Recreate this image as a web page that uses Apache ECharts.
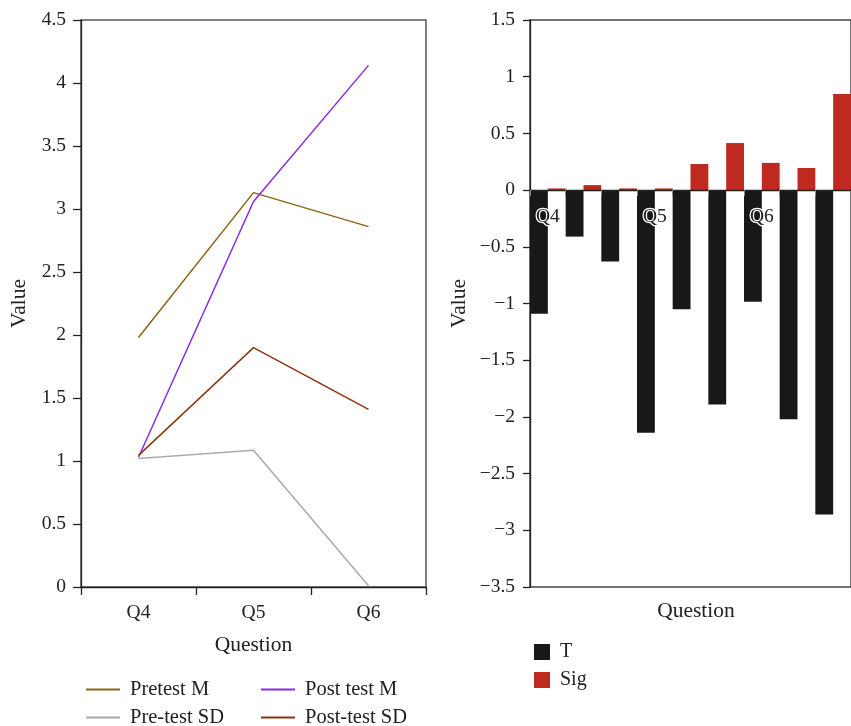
<!DOCTYPE html>
<html>
<head>
<meta charset="utf-8">
<script src="https://cdn.jsdelivr.net/npm/echarts@6/dist/echarts.min.js"></script>
<style>html,body{margin:0;padding:0;background:#fff}#c{width:851px;height:726px}</style>
</head>
<body>
<div id="c"></div>
<script>
// ---- data ----
var lineCategories = ["Q4", "Q5", "Q6"];
var pretestM   = [1.98, 3.13, 2.86];
var posttestM  = [1.03, 3.06, 4.14];
var pretestSD  = [1.02, 1.085, 0.01];
var posttestSD = [1.045, 1.90, 1.41];

var barCategories = ["Q4", "", "", "Q5", "", "", "Q6", "", ""];
var tValues   = [-1.09, -0.41, -0.63, -2.14, -1.05, -1.89, -0.985, -2.02, -2.86];
var sigValues = [0.015, 0.044, 0.015, 0.015, 0.23, 0.415, 0.24, 0.195, 0.847];

var leftTicks = { min: 0, max: 4.5, interval: 0.5 };
var rightTicks = { min: -3.5, max: 1.5, interval: 0.5 };

// ---- chart ----
var FONT = "Liberation Serif";
var TXT = "#222";
var chart = echarts.init(document.getElementById('c'), null, { renderer: 'canvas' });
function fmt(v) { return String(v).replace('-', '\u2212'); }

var GRID_TOP = 20, GRID_H = 567;
// distance of the zero line below the top of the right grid (from the axis range)
var zeroOffset = GRID_H * (rightTicks.max - 0) / (rightTicks.max - rightTicks.min);

var axisLineStyle = { color: '#222', width: 1.3 };
function lineLegend(name, left, top) {
  return { left: left, top: top, orient: 'horizontal', icon: 'rect', itemWidth: 34, itemHeight: 2,
    textStyle: { fontFamily: FONT, fontSize: 20.5, color: TXT, padding: [0, 0, 0, 5] }, data: [name] };
}
var option = {
  animation: false,
  textStyle: { fontFamily: FONT },
  grid: [
    { left: 81, top: GRID_TOP, width: 345, height: GRID_H, show: true, borderColor: '#555', borderWidth: 1.5, backgroundColor: 'transparent' },
    { left: 530, top: GRID_TOP, width: 333, height: GRID_H, show: true, borderColor: '#444', borderWidth: 1.5, backgroundColor: 'transparent' }
  ],
  xAxis: [
    {
      gridIndex: 0, type: 'category', data: lineCategories, boundaryGap: true,
      name: 'Question', nameLocation: 'middle', nameGap: 47,
      nameTextStyle: { fontFamily: FONT, fontSize: 21.5, color: TXT },
      axisLine: { lineStyle: axisLineStyle },
      axisTick: { show: true, length: 8, lineStyle: { color: '#222', width: 1.3 } },
      axisLabel: { fontFamily: FONT, fontSize: 19.5, color: TXT, margin: 16 },
      splitLine: { show: false }
    },
    {
      gridIndex: 1, type: 'category', data: barCategories, position: 'top', offset: -zeroOffset,
      axisLine: { onZero: false, lineStyle: { color: '#222', width: 1.3 } },
      axisTick: { show: true, inside: true, length: 6, lineStyle: { color: '#8a8a8a', width: 1 } },
      axisLabel: { inside: true, interval: 0, fontFamily: FONT, fontSize: 19.5, color: TXT, margin: 17,
                   textBorderColor: '#fff', textBorderWidth: 2.5 },
      splitLine: { show: false },
      z: 10
    }
  ],
  yAxis: [
    {
      gridIndex: 0, type: 'value', min: leftTicks.min, max: leftTicks.max, interval: leftTicks.interval,
      name: 'Value', nameLocation: 'middle', nameGap: 51,
      nameTextStyle: { fontFamily: FONT, fontSize: 21.5, color: TXT },
      axisLine: { show: true, lineStyle: axisLineStyle },
      axisTick: { show: true, length: 8, lineStyle: { color: '#222', width: 1.3 } },
      axisLabel: { fontFamily: FONT, fontSize: 19.5, color: TXT, margin: 15, formatter: fmt },
      splitLine: { show: false }
    },
    {
      gridIndex: 1, type: 'value', min: rightTicks.min, max: rightTicks.max, interval: rightTicks.interval,
      name: 'Value', nameLocation: 'middle', nameGap: 60,
      nameTextStyle: { fontFamily: FONT, fontSize: 21.5, color: TXT },
      axisLine: { show: true, onZero: false, lineStyle: axisLineStyle },
      axisTick: { show: true, length: 7, lineStyle: { color: '#222', width: 1.3 } },
      axisLabel: { fontFamily: FONT, fontSize: 19.5, color: TXT, margin: 15, formatter: fmt },
      splitLine: { show: false }
    }
  ],
  legend: [
    lineLegend('Pretest M', 81, 674),
    lineLegend('Post test M', 256, 674),
    lineLegend('Pre-test SD', 81, 702),
    lineLegend('Post-test SD', 256, 702),
    { left: 529, top: 637, orient: 'vertical', itemGap: 8, icon: 'rect', itemWidth: 16, itemHeight: 16,
      textStyle: { fontFamily: FONT, fontSize: 20, color: TXT, padding: [0, 0, 0, 5] },
      data: ['T', 'Sig'] }
  ],
  graphic: [
    { type: 'text', x: 696, y: 611, style: { text: 'Question', fontFamily: FONT, fontSize: 21.5, fill: TXT,
      textAlign: 'center', textVerticalAlign: 'middle' } }
  ],
  series: [
    { name: 'Pretest M', type: 'line', xAxisIndex: 0, yAxisIndex: 0, data: pretestM, showSymbol: false, symbol: 'none',
      lineStyle: { color: '#8c6418', width: 1.5 }, itemStyle: { color: '#8c6418' } },
    { name: 'Post test M', type: 'line', xAxisIndex: 0, yAxisIndex: 0, data: posttestM, showSymbol: false, symbol: 'none',
      lineStyle: { color: '#8a2be2', width: 1.5 }, itemStyle: { color: '#8a2be2' } },
    { name: 'Pre-test SD', type: 'line', xAxisIndex: 0, yAxisIndex: 0, data: pretestSD, showSymbol: false, symbol: 'none',
      lineStyle: { color: '#aaaaaa', width: 1.5 }, itemStyle: { color: '#aaaaaa' } },
    { name: 'Post-test SD', type: 'line', xAxisIndex: 0, yAxisIndex: 0, data: posttestSD, showSymbol: false, symbol: 'none',
      lineStyle: { color: '#8b3510', width: 1.5 }, itemStyle: { color: '#8b3510' } },
    { name: 'T', type: 'bar', xAxisIndex: 1, yAxisIndex: 1, data: tValues, barGap: '0%', barCategoryGap: '0%',
      itemStyle: { color: '#181818' } },
    { name: 'Sig', type: 'bar', xAxisIndex: 1, yAxisIndex: 1, data: sigValues, barGap: '0%', barCategoryGap: '0%',
      itemStyle: { color: '#be2a20' } }
  ]
};
chart.setOption(option);
</script>
</body>
</html>
